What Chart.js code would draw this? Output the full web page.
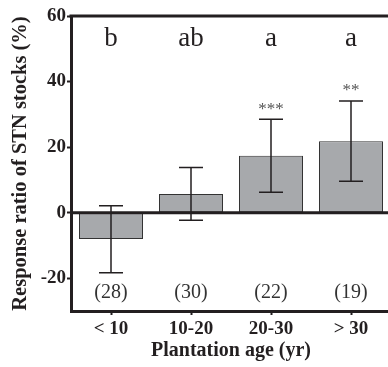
<!DOCTYPE html>
<html>
<head>
<meta charset="utf-8">
<script src="https://cdn.jsdelivr.net/npm/chart.js@4.4.1/dist/chart.umd.min.js"></script>
<style>
  html, body { margin: 0; padding: 0; background: #fff; overflow: hidden; }
  #wrap { width: 388px; height: 367px; overflow: hidden; }
</style>
</head>
<body>
<div id="wrap"><canvas id="chart" width="392" height="367"></canvas></div>
<script>
const categories = ["< 10", "10-20", "20-30", "> 30"];
const means = [-8.0, 5.7, 17.4, 21.8];
const errLow = [-18.3, -2.3, 6.2, 9.6];
const errHigh = [2.1, 13.8, 28.5, 34.1];
const groupLetters = ["b", "ab", "a", "a"];
const sigMarks = ["", "", "***", "**"];
const sampleSizes = ["(28)", "(30)", "(22)", "(19)"];
const yTicks = [-20, 0, 20, 40, 60];

const ink = "#231f20";
const serif = "'Liberation Serif', 'Times New Roman', serif";

const annotations = {
  id: "annotations",
  afterDatasetsDraw(chart) {
    const { ctx, chartArea, scales } = chart;
    const x = scales.x;
    const y = scales.y;
    ctx.save();

    // error bars
    ctx.strokeStyle = ink;
    ctx.lineWidth = 1.5;
    means.forEach((_, i) => {
      const cx = x.getPixelForValue(i);
      const top = y.getPixelForValue(errHigh[i]);
      const bottom = y.getPixelForValue(errLow[i]);
      ctx.beginPath();
      ctx.moveTo(cx, top);
      ctx.lineTo(cx, bottom);
      ctx.moveTo(cx - 12, top);
      ctx.lineTo(cx + 12, top);
      ctx.moveTo(cx - 12, bottom);
      ctx.lineTo(cx + 12, bottom);
      ctx.stroke();
    });

    // zero line and top frame
    ctx.lineWidth = 3;
    const zero = y.getPixelForValue(0);
    ctx.beginPath();
    ctx.moveTo(chartArea.left, zero);
    ctx.lineTo(chartArea.right, zero);
    ctx.moveTo(chartArea.left - 1.5, chartArea.top);
    ctx.lineTo(chartArea.right, chartArea.top);
    ctx.stroke();

    ctx.textAlign = "center";
    ctx.textBaseline = "middle";

    // group letters
    ctx.fillStyle = ink;
    ctx.font = "27px " + serif;
    groupLetters.forEach((t, i) => {
      ctx.fillText(t, x.getPixelForValue(i), y.getPixelForValue(53));
    });

    // significance marks
    ctx.fillStyle = "#555";
    ctx.font = "17px " + serif;
    sigMarks.forEach((t, i) => {
      if (!t) return;
      ctx.fillText(t, x.getPixelForValue(i), y.getPixelForValue(errHigh[i]) - 10);
    });

    // sample sizes
    ctx.fillStyle = "#333";
    ctx.font = "20px " + serif;
    sampleSizes.forEach((t, i) => {
      ctx.fillText(t, x.getPixelForValue(i), y.getPixelForValue(-24.3));
    });

    ctx.restore();
  }
};

new Chart(document.getElementById("chart"), {
  type: "bar",
  data: {
    labels: categories,
    datasets: [
      {
        data: means,
        backgroundColor: "#a7a9ac",
        borderColor: "#333",
        borderWidth: 1,
        borderSkipped: false,
        barPercentage: 0.8,
        categoryPercentage: 1
      }
    ]
  },
  options: {
    responsive: false,
    animation: false,
    devicePixelRatio: 1,
    layout: { padding: { top: 16, right: 1, left: 0, bottom: 0 } },
    plugins: {
      legend: { display: false },
      tooltip: { enabled: false }
    },
    scales: {
      x: {
        afterFit: (scale) => { scale.height = 56; },
        grid: { drawOnChartArea: false, offset: false, tickLength: 4, tickWidth: 2, color: ink },
        border: { color: ink, width: 3 },
        ticks: { color: ink, padding: 3, font: { family: serif, size: 19, weight: "bold" } },
        title: {
          display: true,
          text: "Plantation age (yr)",
          color: ink,
          padding: { top: 4, bottom: 4 },
          font: { family: serif, size: 20, weight: "bold" }
        }
      },
      y: {
        min: -30,
        max: 60,
        afterFit: (scale) => { scale.width = 71; },
        afterBuildTicks: (scale) => {
          scale.ticks = yTicks.map((v) => ({ value: v }));
        },
        grid: { drawOnChartArea: false, tickLength: 4, tickWidth: 2, color: ink },
        border: { color: ink, width: 3 },
        ticks: { color: ink, padding: 1, font: { family: serif, size: 19, weight: "bold" } },
        title: {
          display: true,
          text: "Response ratio of STN stocks (%)",
          color: ink,
          padding: { top: 8, bottom: 0 },
          font: { family: serif, size: 20.5, weight: "bold" }
        }
      }
    }
  },
  plugins: [annotations]
});
</script>
</body>
</html>
